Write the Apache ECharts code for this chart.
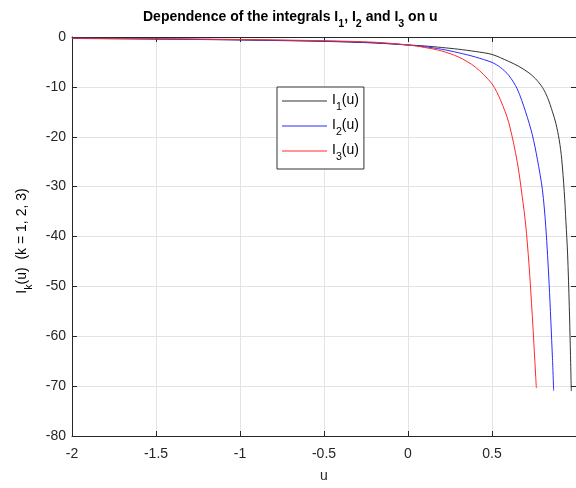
<!DOCTYPE html>
<html>
<head>
<meta charset="utf-8">
<script src="https://cdn.jsdelivr.net/npm/echarts@6/dist/echarts.min.js"></script>
<style>
  html, body { margin: 0; padding: 0; background: #ffffff; }
  #chart { width: 576px; height: 488px; }
</style>
</head>
<body>
<div id="chart"></div>
<script>
// Axis ranges and ticks
const uMin = -2, uMax = 1, uStep = 0.5;
const iMin = -80, iMax = 0, iStep = 10;

// I1(u)
const u1 = [-2, -1.5, -1, -0.5, -0.2, 0, 0.1, 0.2, 0.3, 0.4, 0.5, 0.6, 0.66, 0.72, 0.76, 0.8, 0.83, 0.86, 0.88, 0.9, 0.915, 0.93, 0.94, 0.95, 0.96, 0.966, 0.972];
const i1 = [-0.3, -0.42, -0.6, -0.88, -1.2, -1.6, -1.8, -2.1, -2.45, -2.9, -3.5, -4.9, -5.9, -7.2, -8.4, -10.1, -12.1, -15.0, -17.3, -20.6, -24.5, -31, -37, -43.5, -54, -62, -71];

// I2(u)
const u2 = [-2, -1.5, -1, -0.5, -0.2, 0, 0.1, 0.2, 0.3, 0.4, 0.5, 0.55, 0.6, 0.65, 0.7, 0.74, 0.77, 0.8, 0.82, 0.84, 0.86, 0.867];
const i2 = [-0.27, -0.38, -0.56, -0.82, -1.15, -1.6, -1.95, -2.45, -3.15, -4.0, -5.1, -6.1, -7.7, -10.4, -15.0, -19.6, -24.5, -30.6, -38, -49.5, -64.5, -70.9];

// I3(u)
const u3 = [-2, -1.5, -1, -0.5, -0.2, 0, 0.1, 0.2, 0.3, 0.4, 0.5, 0.55, 0.6, 0.65, 0.68, 0.7, 0.72, 0.74, 0.76, 0.764];
const i3 = [-0.24, -0.34, -0.5, -0.75, -1.05, -1.6, -2.1, -2.8, -4.0, -6.0, -9.4, -12.6, -17.2, -25, -32, -37.5, -45.5, -56, -68, -70.4];

const seriesNames = ['I1(u)', 'I2(u)', 'I3(u)'];
const seriesColors = ['#333333', '#2b2bff', '#ff2a2a'];

const pairs = (xs, ys) => xs.map((x, k) => [x, ys[k]]);
const seriesData = [pairs(u1, i1), pairs(u2, i2), pairs(u3, i3)];

const FONT = '"Liberation Sans", Arial, Helvetica, sans-serif';
const INK = '#262626';

// rich styles for text with subscripts
const richText = (size, weight) => ({
  n: { fontFamily: FONT, fontSize: size, fontWeight: weight, color: '#000', lineHeight: 16, verticalAlign: 'top' },
  s: { fontFamily: FONT, fontSize: size * 0.76, fontWeight: weight, color: '#000', lineHeight: 10, verticalAlign: 'top', padding: [9, 0, 0, 0] }
});

const chart = echarts.init(document.getElementById('chart'), null, { renderer: 'canvas' });

const gridLine = { show: true, lineStyle: { color: '#e3e3e3', width: 1 } };
const axisLine = { show: true, onZero: false, lineStyle: { color: INK, width: 1 } };
const tick = { show: true, inside: true, length: 5, lineStyle: { color: INK, width: 1 } };

const option = {
  backgroundColor: '#ffffff',
  animation: false,
  title: {
    text: '{n|Dependence of the integrals I}{s|1}{n|, I}{s|2}{n| and I}{s|3}{n| on u}',
    left: 143,
    top: 10,
    padding: 0,
    textStyle: { rich: richText(14, 'bold') }
  },
  legend: {
    orient: 'vertical',
    left: 277,
    top: 87,
    padding: [6, 5, 6, 5],
    backgroundColor: '#ffffff',
    borderColor: '#333333',
    borderWidth: 1,
    borderRadius: 0,
    itemWidth: 45,
    itemHeight: 1,
    itemGap: 5,
    icon: 'rect',
    data: seriesNames,
    formatter: name => '{n|I}{s|' + name.charAt(1) + '}{n|(u)}',
    textStyle: { rich: richText(14, 'normal') }
  },
  grid: { left: 72, right: -4, top: 37, bottom: 48, containLabel: false },
  xAxis: [
    {
      type: 'value', min: uMin, max: uMax, interval: uStep, position: 'bottom',
      name: 'u', nameLocation: 'middle', nameGap: 33,
      nameTextStyle: { fontFamily: FONT, fontSize: 14, color: INK },
      axisLine: axisLine, axisTick: tick, splitLine: gridLine,
      axisLabel: { margin: 11, fontFamily: FONT, fontSize: 14, color: INK, showMaxLabel: false }
    },
    {
      type: 'value', min: uMin, max: uMax, interval: uStep, position: 'top',
      axisLine: axisLine, axisTick: tick, splitLine: { show: false }, axisLabel: { show: false }
    }
  ],
  yAxis: [
    {
      type: 'value', min: iMin, max: iMax, interval: iStep, position: 'left',
      name: '{n|I}{s|k}{n|(u)  (k = 1, 2, 3)}', nameLocation: 'middle', nameGap: 39, nameRotate: 90,
      nameTextStyle: { rich: richText(14, 'normal'), padding: [0, 9, 0, 0] },
      axisLine: axisLine, axisTick: tick, splitLine: gridLine,
      axisLabel: { margin: 6, fontFamily: FONT, fontSize: 14, color: INK }
    },
    {
      type: 'value', min: iMin, max: iMax, interval: iStep, position: 'right',
      axisLine: axisLine, axisTick: tick, splitLine: { show: false }, axisLabel: { show: false }
    }
  ],
  series: seriesNames.map((name, k) => ({
    name: name,
    type: 'line',
    xAxisIndex: 0,
    yAxisIndex: 0,
    data: seriesData[k],
    symbol: 'none',
    smooth: 0.3,
    clip: true,
    color: seriesColors[k],
    lineStyle: { color: seriesColors[k], width: 1 }
  }))
};

chart.setOption(option);
</script>
</body>
</html>
